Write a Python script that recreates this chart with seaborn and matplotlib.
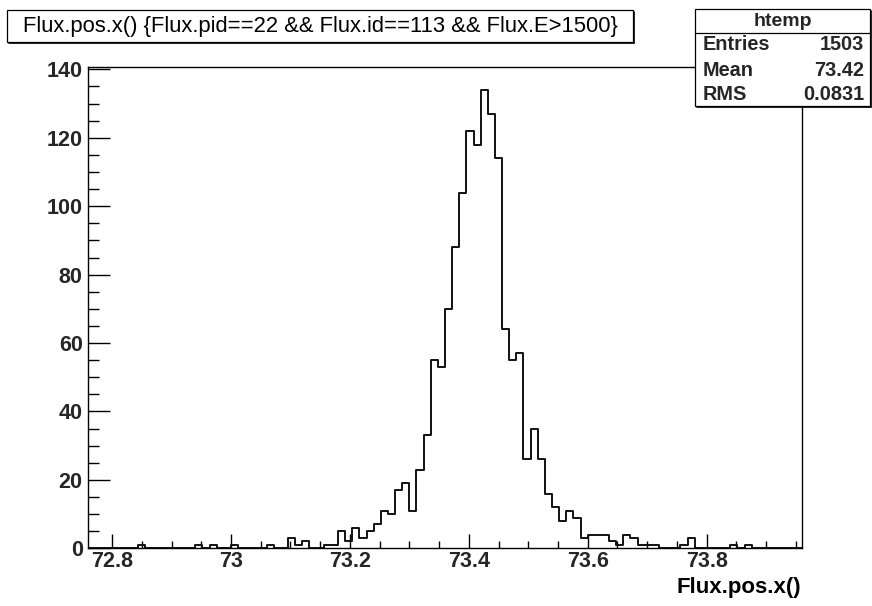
import numpy as np
import pandas as pd
import matplotlib
matplotlib.use("Agg")
import matplotlib.pyplot as plt
import seaborn as sns
from matplotlib.patches import Rectangle
from matplotlib.lines import Line2D
from matplotlib.ticker import MultipleLocator, FuncFormatter

# ---------------- data ----------------
x_min = 72.76
x_max = 73.96
n_bins = 100
counts = [
    0, 0, 0, 0, 0, 0, 0, 1, 0, 0,
    0, 0, 0, 0, 0, 1, 0, 1, 0, 0,
    1, 0, 0, 0, 0, 1, 0, 0, 3, 1,
    2, 0, 0, 1, 1, 5, 2, 6, 3, 5,
    7, 11, 10, 17, 19, 11, 23, 33, 55, 53,
    70, 88, 104, 122, 118, 134, 127, 114, 64, 55,
    57, 26, 35, 26, 16, 12, 8, 11, 9, 3,
    4, 4, 4, 2, 1, 4, 3, 1, 1, 1,
    0, 0, 0, 1, 3, 0, 0, 0, 0, 0,
    1, 0, 1, 0, 0, 0, 0, 0, 0, 0,
]
title_text = "Flux.pos.x() {Flux.pid==22 && Flux.id==113 && Flux.E>1500}"
x_title = "Flux.pos.x()"
stats_name = "htemp"
stats_labels = ["Entries", "Mean", "RMS"]
stats_values = ["1503", "73.42", "0.0831"]
x_ticks = [72.8, 73.0, 73.2, 73.4, 73.6, 73.8]
y_ticks = [0, 20, 40, 60, 80, 100, 120, 140]

edges = np.linspace(x_min, x_max, n_bins + 1)
centers = 0.5 * (edges[:-1] + edges[1:])
df = pd.DataFrame({"x": centers, "w": counts})

# ---------------- style ----------------
sns.set_style("white")
plt.rcParams["font.family"] = ["Liberation Sans", "DejaVu Sans"]
plt.rcParams["font.weight"] = "bold"

W, H = 872, 606
fig = plt.figure(figsize=(W / 100, H / 100), dpi=100)
fig.patch.set_facecolor("white")

def fx(px):
    return px / W

def fy(py):
    return 1 - py / H

ax = fig.add_axes([fx(88.3), fy(548.3), fx(801.7) - fx(88.3), fy(67) - fy(548.3)])

sns.histplot(data=df, x="x", weights="w", bins=n_bins, binrange=(x_min, x_max),
             element="step", fill=False, color="#111111", linewidth=1.4, ax=ax)

ax.set_xlim(x_min, x_max)
ax.set_ylim(0, 1.05 * max(counts))
ax.set_xlabel("")
ax.set_ylabel("")

for s in ax.spines.values():
    s.set_color("black")
    s.set_linewidth(1.0)

ax.xaxis.set_minor_locator(MultipleLocator(0.05))
ax.yaxis.set_minor_locator(MultipleLocator(5))
ax.set_xticks(x_ticks)
ax.set_yticks(y_ticks)
ax.xaxis.set_major_formatter(FuncFormatter(lambda v, p: "%g" % round(v, 3)))
ax.yaxis.set_major_formatter(FuncFormatter(lambda v, p: "%d" % v))

ax.tick_params(axis="x", which="major", direction="in", length=10.3, width=1.0,
               color="black", labelsize=15.5, pad=2, bottom=True, top=False)
ax.tick_params(axis="x", which="minor", direction="in", length=5.2, width=1.0,
               color="black", bottom=True, top=False)
ax.tick_params(axis="y", which="major", direction="in", length=15.6, width=1.0,
               color="black", labelsize=15.5, pad=4, left=True, right=False)
ax.tick_params(axis="y", which="minor", direction="in", length=7.7, width=1.0,
               color="black", left=True, right=False)
for lab in ax.get_xticklabels() + ax.get_yticklabels():
    lab.set_fontweight("bold")

# x axis title
fig.text(fx(801.5), fy(593), x_title, ha="right", va="baseline",
         fontsize=16, fontweight="bold", color="black")

# ---------------- title box ----------------
def draw_box(x0, y0, x1, y1):
    # shadow
    fig.add_artist(Line2D([fx(x1 + 1), fx(x1 + 1)], [fy(y0 + 2), fy(y1 + 1)],
                          color="black", lw=1.2, transform=fig.transFigure))
    fig.add_artist(Line2D([fx(x0 + 2), fx(x1 + 1)], [fy(y1 + 1), fy(y1 + 1)],
                          color="black", lw=1.2, transform=fig.transFigure))
    fig.add_artist(Rectangle((fx(x0), fy(y1)), fx(x1) - fx(x0), fy(y0) - fy(y1),
                             transform=fig.transFigure, facecolor="white",
                             edgecolor="black", lw=0.9, zorder=3))

draw_box(7, 10, 633, 42)
t = fig.text(fx(320), fy(26.5), title_text, ha="center", va="center",
             fontsize=14, fontweight="normal", color="black", zorder=4)
fig.canvas.draw()
r = fig.canvas.get_renderer()
wpx = t.get_window_extent(r).width
t.set_fontsize(14 * 600 / wpx)

# ---------------- stats box ----------------
draw_box(695, 9, 870, 106)
fig.add_artist(Line2D([fx(695), fx(870)], [fy(32.5), fy(32.5)], color="black",
                      lw=0.9, transform=fig.transFigure, zorder=4))
fig.text(fx(783), fy(21.5), stats_name, ha="center", va="center",
         fontsize=14, fontweight="bold", zorder=5)
row_y = [45, 70, 94]
for lab, val, yy in zip(stats_labels, stats_values, row_y):
    fig.text(fx(703), fy(yy), lab, ha="left", va="center", fontsize=14.3,
             fontweight="bold", zorder=5)
    fig.text(fx(864), fy(yy), val, ha="right", va="center", fontsize=14.3,
             fontweight="bold", zorder=5)

fig.savefig("out.png", dpi=100, facecolor="white")
